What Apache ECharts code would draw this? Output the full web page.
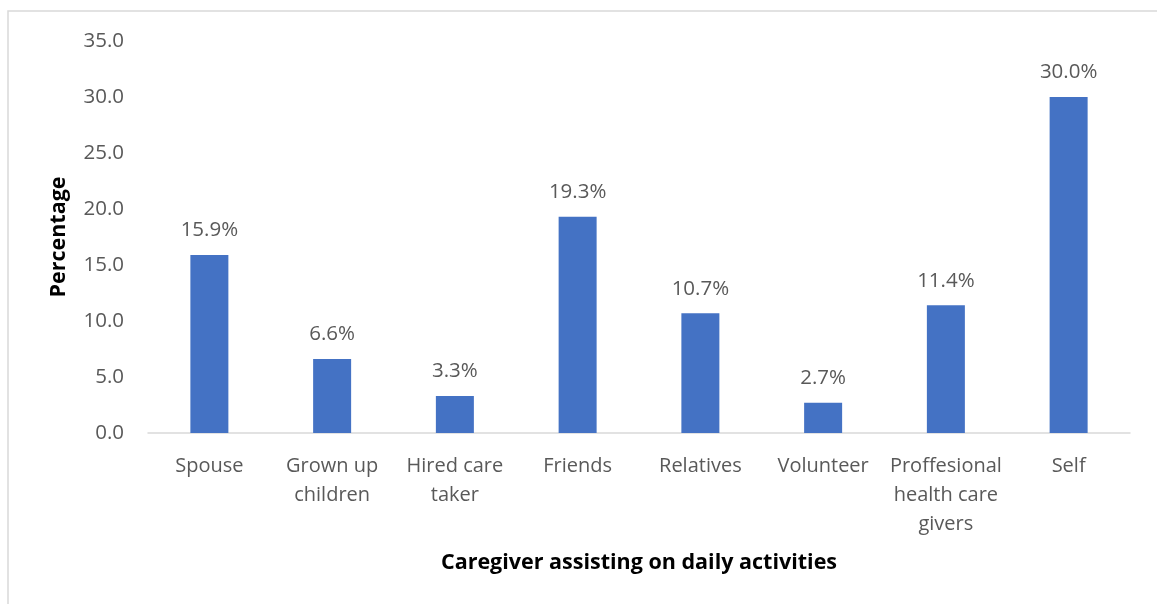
<!DOCTYPE html>
<html>
<head>
<meta charset="utf-8">
<script src="https://cdn.jsdelivr.net/npm/echarts@6/dist/echarts.min.js"></script>
<style>
  html, body { margin: 0; padding: 0; background: #fff; }
  #chart { width: 1157px; height: 604px; }
</style>
</head>
<body>
<div id="chart"></div>
<script>
// Who helps with daily activities (share of respondents, %)
const categories = [
  'Spouse',
  'Grown up\nchildren',
  'Hired care\ntaker',
  'Friends',
  'Relatives',
  'Volunteer',
  'Proffesional\nhealth care\ngivers',
  'Self'
];
const percentages = [15.9, 6.6, 3.3, 19.3, 10.7, 2.7, 11.4, 30.0];
const yTicks = { min: 0, max: 35, interval: 5 };

const textColor = '#595959';
const fontFamily = 'Open Sans, Noto Sans, sans-serif';

const chart = echarts.init(document.getElementById('chart'));
chart.setOption({
  animation: false,
  backgroundColor: '#fff',
  graphic: [{
    type: 'rect',
    shape: { x: 8, y: 11, width: 1200, height: 700 },
    style: { fill: 'none', stroke: '#d9d9d9', lineWidth: 1.5 },
    silent: true
  }],
  grid: { left: 148, right: 27, top: 41, bottom: 171, containLabel: false },
  xAxis: {
    type: 'category',
    data: categories,
    axisLine: { lineStyle: { color: '#d9d9d9', width: 1.5 } },
    axisTick: { show: false },
    axisLabel: {
      color: textColor, fontSize: 20, fontFamily: fontFamily,
      lineHeight: 29, margin: 19, interval: 0
    },
    name: 'Caregiver assisting on daily activities',
    nameLocation: 'middle',
    nameGap: 119,
    nameTextStyle: { color: '#000', fontSize: 21.5, fontWeight: 'bold', fontFamily: fontFamily }
  },
  yAxis: {
    type: 'value',
    min: yTicks.min, max: yTicks.max, interval: yTicks.interval,
    axisLine: { show: false },
    axisTick: { show: false },
    splitLine: { show: false },
    axisLabel: {
      color: textColor, fontSize: 20.5, fontFamily: fontFamily, margin: 24,
      formatter: v => v.toFixed(1)
    },
    name: 'Percentage',
    nameLocation: 'middle',
    nameGap: 78,
    nameRotate: 90,
    nameTextStyle: { color: '#000', fontSize: 21.5, fontWeight: 'bold', fontFamily: fontFamily }
  },
  series: [{
    type: 'bar',
    data: percentages,
    barWidth: 38,
    itemStyle: { color: '#4472C4' },
    label: {
      show: true, position: 'top', distance: 14,
      color: textColor, fontSize: 20.5, fontFamily: fontFamily,
      formatter: p => p.value.toFixed(1) + '%'
    }
  }]
});
</script>
</body>
</html>
